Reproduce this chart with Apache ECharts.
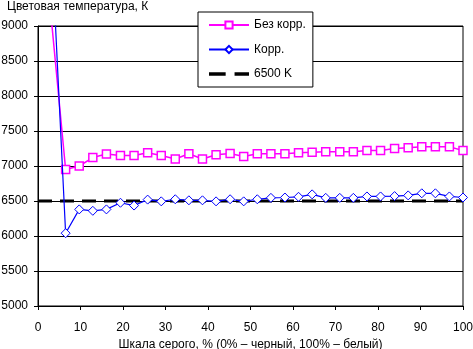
<!DOCTYPE html>
<html><head><meta charset="utf-8">
<script src="https://cdn.jsdelivr.net/npm/echarts@6/dist/echarts.min.js"></script>
<style>html,body{margin:0;padding:0;background:#fff}#c{width:473px;height:349px}</style>
</head><body><div id="c"></div>
<script>
var xValues = [3.2, 6.5, 9.7, 12.9, 16.1, 19.4, 22.6, 25.8, 29.0, 32.3, 35.5, 38.7, 41.9, 45.2, 48.4, 51.6, 54.8, 58.1, 61.3, 64.5, 67.7, 71.0, 74.2, 77.4, 80.6, 83.9, 87.1, 90.3, 93.5, 96.8, 100];
var bezKorr = [9060, 6950, 7000, 7120, 7170, 7150, 7150, 7190, 7150, 7100, 7175, 7100, 7160, 7180, 7135, 7175, 7175, 7175, 7190, 7195, 7205, 7205, 7205, 7220, 7220, 7250, 7260, 7275, 7275, 7275, 7220];
var korr = [10150, 6040, 6380, 6360, 6380, 6475, 6435, 6520, 6495, 6525, 6510, 6510, 6495, 6525, 6495, 6525, 6545, 6550, 6560, 6595, 6545, 6545, 6545, 6565, 6565, 6570, 6580, 6610, 6610, 6565, 6550];
var refX = [0, 100];
var refY = [6500, 6500];
var seriesNames = ['Без корр.', 'Корр.', '6500 K'];
var yTitle = 'Цветовая температура, К';
var xTitle = 'Шкала серого, % (0% – черный, 100% – белый)';

function pairs(xs, ys) { return xs.map(function (x, i) { return [x, ys[i]]; }); }
var FONT = 'Liberation Sans';
var chart = echarts.init(document.getElementById('c'), null, {renderer: 'canvas'});
chart.setOption({
  backgroundColor: '#fff',
  animation: false,
  textStyle: {fontFamily: FONT, color: '#000'},
  title: {text: yTitle, left: 7, top: 1, padding: 0,
    textStyle: {fontFamily: FONT, fontSize: 12, fontWeight: 'normal', color: '#000'}},
  grid: {left: 38, right: 10, top: 26, bottom: 43, containLabel: false, outerBoundsMode: 'none',
    show: true, borderColor: '#000', borderWidth: 1, backgroundColor: 'transparent'},
  legend: {
    orient: 'vertical', left: 198, top: 12,
    backgroundColor: '#fff', borderColor: '#000', borderWidth: 1,
    padding: [6, 7, 6, 10], itemGap: 10.5, itemWidth: 40, itemHeight: 9,
    textStyle: {fontFamily: FONT, fontSize: 12, color: '#000', lineHeight: 14},
    data: [
      {name: seriesNames[0]},
      {name: seriesNames[1]},
      {name: seriesNames[2], icon: 'path://M0,0H15V3H0Z M23,0H36V3H23Z', itemStyle: {color: '#000'}}
    ]
  },
  xAxis: {
    type: 'value', min: 0, max: 100, interval: 10,
    axisLine: {show: true, onZero: false, lineStyle: {color: '#000', width: 1}},
    axisTick: {show: true, length: 4, lineStyle: {color: '#000'}},
    axisLabel: {fontFamily: FONT, fontSize: 12, color: '#000', margin: 16},
    splitLine: {show: false},
    name: xTitle, nameLocation: 'middle', nameGap: 28,
    nameTextStyle: {fontFamily: FONT, fontSize: 12, color: '#000'}
  },
  yAxis: {
    type: 'value', min: 5000, max: 9000, interval: 500,
    axisLine: {show: true, lineStyle: {color: '#000', width: 1}},
    axisTick: {show: true, length: 4, lineStyle: {color: '#000'}},
    axisLabel: {fontFamily: FONT, fontSize: 12, color: '#000', margin: 10,
      formatter: function (v) { return String(v); }},
    splitLine: {show: true, lineStyle: {color: '#000', width: 1}}
  },
  series: [
    {name: seriesNames[2], type: 'line', data: pairs(refX, refY), symbol: 'none', z: 2,
      lineStyle: {color: '#000', width: 3, type: [14, 8]}, itemStyle: {color: '#000'}},
    {name: seriesNames[0], type: 'line', data: pairs(xValues, bezKorr), clip: true, z: 3,
      symbol: 'rect', symbolSize: 8, showAllSymbol: true,
      lineStyle: {color: '#ff00ff', width: 1.5},
      itemStyle: {color: '#fff', borderColor: '#ff00ff', borderWidth: 1.5}},
    {name: seriesNames[1], type: 'line', data: pairs(xValues, korr), clip: true, z: 4,
      symbol: 'diamond', symbolSize: 9, showAllSymbol: true,
      lineStyle: {color: '#0000ff', width: 1.2},
      itemStyle: {color: '#fff', borderColor: '#0000ff', borderWidth: 1}}
  ]
});
</script></body></html>
